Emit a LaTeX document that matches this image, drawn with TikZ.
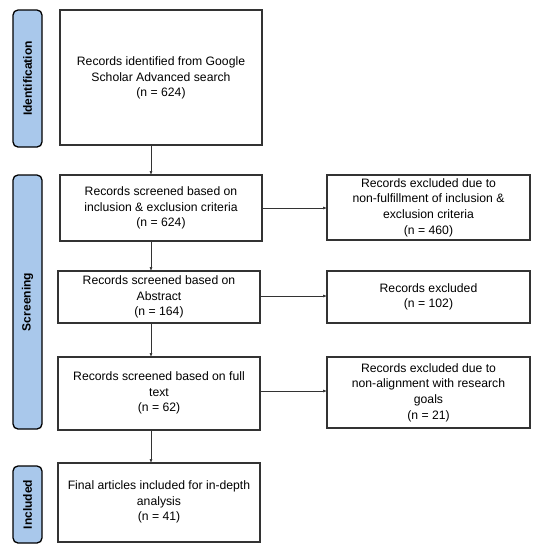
\documentclass[tikz,border=0pt]{standalone}
\usepackage{fontspec}
\setmainfont{Liberation Sans}
\usetikzlibrary{arrows.meta}
\definecolor{bandfill}{HTML}{A9C8EB}
\definecolor{boxline}{HTML}{333333}
\begin{document}
\begin{tikzpicture}[x=1pt,y=-1pt,
  box/.style={draw=boxline,line width=1.1pt,fill=white},
  band/.style={draw=black,line width=1.3pt,fill=bandfill,rounded corners=5pt},
  txt/.style={align=center,font=\fontsize{12.2}{15.6}\selectfont,inner sep=0pt},
  bandtxt/.style={rotate=90,font=\fontsize{12}{14}\bfseries\selectfont,inner sep=0pt},
  arr/.style={draw=boxline,line width=0.7pt,-{Latex[length=4pt,width=3pt]}}]
\useasboundingbox (0,0) rectangle (537,550);
% bands
\draw[band] (13,10) rectangle (42,147);
\node[bandtxt] (bI) at (27.5,78.5) {Identification};
\draw[band] (13,175) rectangle (42,429);
\node[bandtxt] (bS) at (27.5,302) {Screening};
\draw[band] (13,466) rectangle (42,543);
\node[bandtxt] (bN) at (27.5,504.5) {Included};
% left boxes
\draw[box] (60,10) rectangle (262,145);
\node[txt] (b1) at (161,78) {Records identified from Google\\Scholar Advanced search\\(n = 624)};
\draw[box] (60,175) rectangle (262,241);
\node[txt] (b2) at (161,208) {Records screened based on\\inclusion \& exclusion criteria\\(n = 624)};
\draw[box] (58,271) rectangle (260,323);
\node[txt] (b3) at (159,297) {Records screened based on\\Abstract\\(n = 164)};
\draw[box] (58,357) rectangle (260,430);
\node[txt] (b4) at (159,393) {Records screened based on full\\text\\(n = 62)};
\draw[box] (58,463) rectangle (260,542);
\node[txt] (b5) at (159,502) {Final articles included for in-depth\\analysis\\(n = 41)};
% right boxes
\draw[box] (327,175) rectangle (530,240);
\node[txt] (r1) at (428.5,207.5) {Records excluded due to\\non-fulfillment of inclusion \&\\exclusion criteria\\(n = 460)};
\draw[box] (327,271) rectangle (530,323);
\node[txt] (r2) at (428.5,297) {Records excluded\\(n = 102)};
\draw[box] (327,357) rectangle (530,428);
\node[txt] (r3) at (428.5,392.5) {Records excluded due to\\non-alignment with research\\goals\\(n = 21)};
% coordinates
\coordinate (a1s) at (151,145); \coordinate (a1e) at (151,175);
\coordinate (a2s) at (151,241); \coordinate (a2e) at (151,271);
\coordinate (a3s) at (151,323); \coordinate (a3e) at (151,357);
\coordinate (a4s) at (151,430); \coordinate (a4e) at (151,463);
\coordinate (h1s) at (262,208); \coordinate (h1e) at (327,208);
\coordinate (h2s) at (260,296); \coordinate (h2e) at (327,296);
\coordinate (h3s) at (260,391); \coordinate (h3e) at (327,391);
\draw[arr] (a1s) -- (a1e);
\draw[arr] (a2s) -- (a2e);
\draw[arr] (a3s) -- (a3e);
\draw[arr] (a4s) -- (a4e);
\draw[arr] (h1s) -- (h1e);
\draw[arr] (h2s) -- (h2e);
\draw[arr] (h3s) -- (h3e);
\end{tikzpicture}
\end{document}
